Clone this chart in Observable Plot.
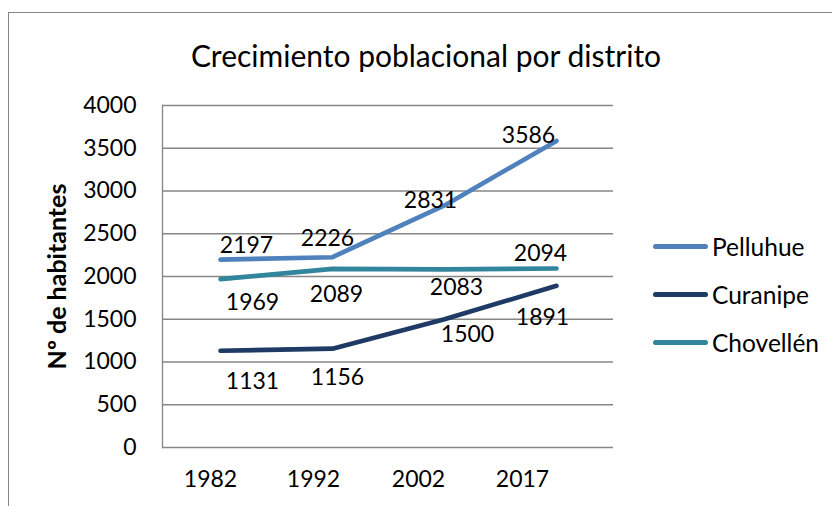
<!DOCTYPE html>
<html>
<head>
<meta charset="utf-8">
<script src="https://cdn.jsdelivr.net/npm/d3@7"></script>
<script src="https://cdn.jsdelivr.net/npm/@observablehq/plot@0.6"></script>
<style>
  body { margin: 0; background: #fff; font-family: Lato, "Open Sans", sans-serif; }
  #wrap { position: relative; width: 832px; height: 506px; overflow: hidden; background: #fff; }
  #border { position: absolute; left: 8px; top: 12px; width: 900px; height: 600px;
            border-left: 1.5px solid #868686; border-top: 1.5px solid #868686; }
  #title { position: absolute; left: 426px; top: 55px; transform: translate(-50%, -50%);
           font-size: 30px; color: #000; white-space: nowrap; }
  #legend { position: absolute; left: 653px; top: 222px; }
  .item { display: flex; align-items: center; height: 48px; font-size: 24.5px; color: #000; }
  .swatch { width: 55px; height: 5px; border-radius: 3px; margin-right: 4px; }
  #chart { position: absolute; left: 0; top: 0; }
</style>
</head>
<body>
<div id="wrap">
  <div id="border"></div>
  <div id="chart"></div>
  <div id="title"></div>
  <div id="legend"></div>
</div>
<script>
// ---- data ----
const years = ["1982", "1992", "2002", "2017"];
const seriesNames = ["Pelluhue", "Curanipe", "Chovellén"];
const pelluhue = [2197, 2226, 2831, 3586];
const curanipe = [1131, 1156, 1500, 1891];
const chovellen = [1969, 2089, 2083, 2094];
const yTicks = [0, 500, 1000, 1500, 2000, 2500, 3000, 3500, 4000];
const titleText = "Crecimiento poblacional por distrito";
const yLabel = "Nº de habitantes";

// ---- styling ----
const colors = ["#4F81BD", "#1F3A64", "#31859C"];
// label nudges (px) per series, per year
const labelNudge = {
  "Pelluhue": [[26, -14], [-5, -19], [-14, -5], [-28, -5]],
  "Curanipe": [[32, 31], [5, 29], [23, 15], [-14, 32]],
  "Chovellén": [[32, 23], [4, 26], [12, 18], [-16, -15]]
};
const xTickNudge = [-10, -19, -26, -34];

const valuesBySeries = [pelluhue, curanipe, chovellen];
const data = [];
seriesNames.forEach((s, si) => {
  years.forEach((y, yi) => data.push({series: s, year: y, value: valuesBySeries[si][yi], yi}));
});

const font = "Lato, 'Open Sans', sans-serif";
const marks = [
  Plot.gridY(yTicks, {stroke: "#868686", strokeOpacity: 1, strokeWidth: 1.3}),
  Plot.frame({anchor: "left", stroke: "#868686", strokeWidth: 1.3}),
  Plot.axisY({ticks: yTicks, tickFormat: d => String(d), tickSize: 0, tickPadding: 26, fontSize: 23, label: null, fill: "#000"}),
  Plot.text([yLabel], {frameAnchor: "left", textAnchor: "middle", rotate: -90, dx: -105, fontSize: 25, fontWeight: "bold", fill: "#000"}),
  ...years.map((y, i) => Plot.axisX({ticks: [y], tickSize: 0, tickPadding: 23, fontSize: 23, label: null, dx: xTickNudge[i], fill: "#000"})),
  Plot.line(data, {x: "year", y: "value", z: "series", stroke: "series", strokeWidth: 4.6, strokeLinecap: "round", strokeLinejoin: "round"})
];
data.forEach(d => {
  const [dx, dy] = labelNudge[d.series][d.yi];
  marks.push(Plot.text([d], {x: "year", y: "value", text: d => String(d.value), dx, dy, fontSize: 23, fill: "#000"}));
});

const chart = Plot.plot({
  width: 832,
  height: 506,
  marginTop: 105,
  marginBottom: 59,
  marginLeft: 162,
  marginRight: 219,
  style: {fontFamily: font, background: "transparent", overflow: "visible"},
  x: {type: "point", domain: years, padding: 0.5, axis: null},
  y: {domain: [0, 4000], axis: null},
  color: {domain: seriesNames, range: colors},
  marks
});
document.getElementById("chart").appendChild(chart);

document.getElementById("title").textContent = titleText;
const legend = document.getElementById("legend");
seriesNames.forEach((s, i) => {
  const item = document.createElement("div");
  item.className = "item";
  const sw = document.createElement("div");
  sw.className = "swatch";
  sw.style.background = colors[i];
  const t = document.createElement("span");
  t.textContent = s;
  item.appendChild(sw);
  item.appendChild(t);
  legend.appendChild(item);
});
</script>
</body>
</html>
